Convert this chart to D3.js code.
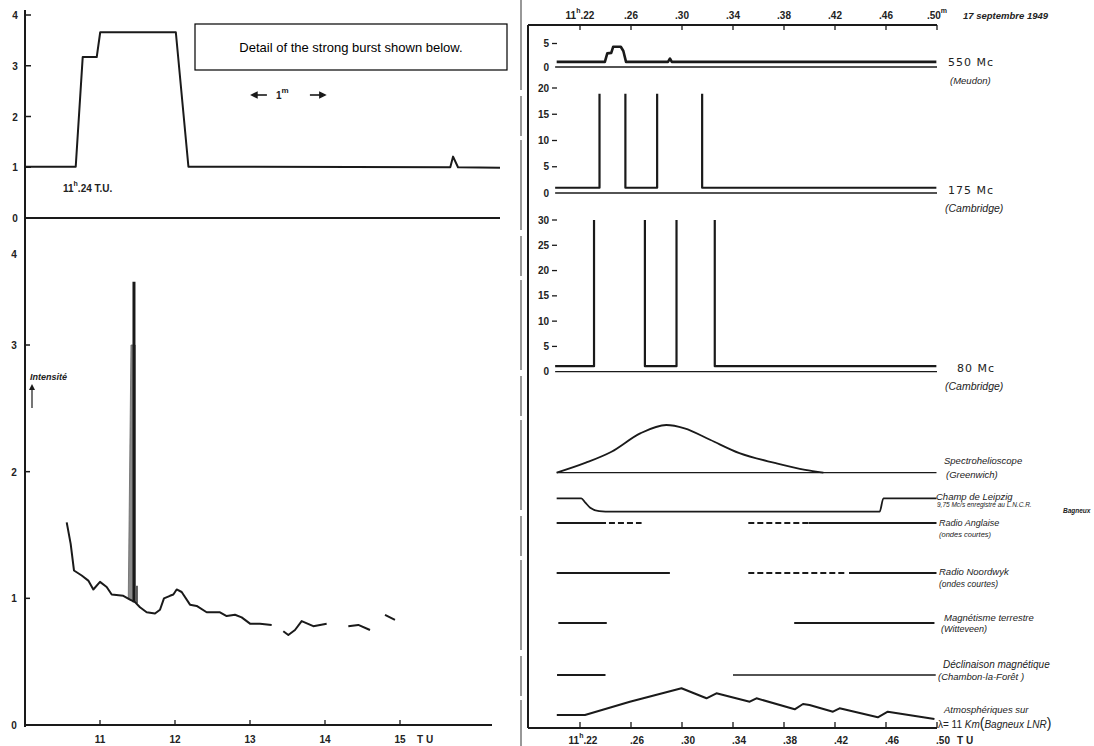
<!DOCTYPE html>
<html>
<head>
<meta charset="utf-8">
<script src="https://cdn.jsdelivr.net/npm/d3@7"></script>
<style>
  body { margin: 0; background: #fff; }
  svg { display: block; }
  .num { font-family: "Liberation Sans", Arial, sans-serif; font-weight: bold; font-size: 10px; fill: #222; }
  .lab { font-family: "Liberation Sans", Arial, sans-serif; font-style: italic; fill: #222; }
  .mc  { font-family: "DejaVu Sans", sans-serif; font-size: 11px; fill: #222; letter-spacing: 1px; }
</style>
</head>
<body>
<svg id="chart" width="1094" height="746"></svg>
<script>
/* Solar burst of 17 Sept 1949 — left: intensity record + detail, right: multi-station comparison.
   Values. */

// ---- left panel data ----
var burstTicks = [0, 1, 2, 3, 4];
var burst = [[23.23, 1.01], [23.94, 1.01], [24.04, 3.17], [24.24, 3.17], [24.29, 3.66], [25.37, 3.66],
             [25.55, 1.01], [29.29, 1.0], [29.33, 1.21], [29.40, 1.0], [30.0, 0.99]];

var hourTicks = [11, 12, 13, 14, 15];
var intensityTicks = [0, 1, 2, 3];
var intensity = [
  [10.556, 1.60], [10.609, 1.43], [10.653, 1.22], [10.756, 1.18], [10.844, 1.14], [10.911, 1.07],
  [11.0, 1.13], [11.089, 1.09], [11.156, 1.03], [11.311, 1.02], [11.4, 0.99], [11.467, 0.97],
  [11.533, 0.93], [11.622, 0.89], [11.733, 0.88], [11.8, 0.91], [11.853, 1.0], [11.933, 1.02],
  [11.978, 1.03], [12.022, 1.07], [12.089, 1.05], [12.2, 0.95], [12.289, 0.94], [12.422, 0.89],
  [12.6, 0.89], [12.689, 0.86], [12.8, 0.87], [12.889, 0.85], [13.0, 0.80], [13.133, 0.80], [13.289, 0.79],
  null,
  [13.444, 0.74], [13.511, 0.71], [13.6, 0.75], [13.689, 0.82], [13.844, 0.78], [13.933, 0.79], [14.022, 0.80],
  null,
  [14.311, 0.78], [14.444, 0.79], [14.6, 0.75],
  null,
  [14.8, 0.87], [14.933, 0.83]
];
var spikeFill = [[11.377, 1.0], [11.413, 3.0], [11.47, 3.0], [11.47, 0.97]];
var spikePeak = [[11.453, 3.5], [11.453, 0.97]];
var spikeTick = [[11.493, 1.1], [11.493, 0.96]];

// ---- right panel data ----
var minuteTicks = [22, 26, 30, 34, 38, 42, 46, 50];
var minuteLabels = ["11|h|.22", ".26", ".30", ".34", ".38", ".42", ".46", ".50|m|"];
var bottomLabels = ["11|h|.22", ".26", ".30", ".34", ".38", ".42", ".46", ".50"];

var ticks550 = [0, 5];
var mc550 = [[20.17, 1.1], [23.95, 1.1], [24.14, 2.9], [24.45, 3.0], [24.6, 4.3], [25.2, 4.3],
             [25.4, 3.4], [25.61, 1.1], [28.9, 1.1], [29.06, 1.8], [29.2, 1.1], [49.95, 1.1]];

var ticks175 = [0, 5, 10, 15, 20];
var mc175 = [[20.05, 1.0], [23.53, 1.0], [23.53, 18.9], null, [25.56, 18.9], [25.56, 1.0],
             [28.05, 1.0], [28.05, 18.9], null, [31.58, 18.9], [31.58, 1.0], [49.95, 1.0]];

var ticks80 = [0, 5, 10, 15, 20, 25, 30];
var mc80 = [[20.05, 1.1], [23.10, 1.1], [23.10, 30], null, [27.09, 30], [27.09, 1.1],
            [29.57, 1.1], [29.57, 30], null, [32.57, 30], [32.57, 1.1], [49.95, 1.1]];

var spectro = [[20.17, 0], [22.46, 0.21], [24.47, 0.44], [26.76, 0.83], [28.77, 1.0], [30.2, 0.93],
               [32.2, 0.69], [34.5, 0.41], [37.36, 0.20], [39.66, 0.06], [41.09, 0]];
var spectroBase = [[20.17, 0], [49.96, 0]];

var leipzig = [[20.17, 1], [22.1, 1], [22.4, 0.7], [22.8, 0.3], [23.5, 0.05], [24.5, 0],
               [45.5, 0], [45.8, 1], [49.96, 1]];

var radioAnglaise = [[20.17, 24.04, "solid"], [24.27, 26.83, "dash"], [35.2, 39.93, "dash"], [39.93, 49.96, "solid"]];
var radioNoordwyk = [[20.17, 29.05, "solid"], [35.2, 42.8, "dash"], [43.1, 49.96, "solid"]];
var magnetisme = [[20.3, 24.1, "solid"], [38.8, 49.8, "solid"]];
var declinaison = [[20.2, 24.0, "solid"], [34.0, 49.9, "thin"]];

var atmos = [[20.18, 1.3], [22.39, 1.3], [25.91, 2.63], [29.96, 3.97], [31.92, 2.97], [32.7, 3.47],
             [35.31, 2.63], [35.84, 2.97], [38.84, 1.87], [39.49, 2.4], [40.0, 2.3], [41.84, 1.63],
             [42.36, 1.97], [45.36, 1.07], [46.14, 1.63], [49.8, 0.9]];

// ---------------------------------------------------------------------------
var svg = d3.select("#chart");
var ink = "#1a1a1a";

function path(xs, ys) {
  return d3.line().defined(function (d) { return d; })
    .x(function (d) { return xs(d[0]); }).y(function (d) { return ys(d[1]); });
}
// "11|h|.22" -> 11 + raised small h + .22
function supLabel(sel, s) {
  var parts = s.split("|");
  sel.append("tspan").text(parts[0]);
  if (parts.length > 1) {
    sel.append("tspan").attr("dy", -6).attr("font-size", "7px").text(parts[1]);
    if (parts[2]) sel.append("tspan").attr("dy", 6).text(parts[2]);
  }
}

/* ======================= LEFT PANEL ======================= */
var xT = d3.scaleLinear().domain([23.23, 30]).range([26, 500]);
var yB = d3.scaleLinear().domain([0, 4]).range([218, 15]);
var xH = d3.scaleLinear().domain([10, 16.2]).range([25, 490]);
var yI = d3.scaleLinear().domain([0, 3]).range([725, 345]);

// page edge of the scan
svg.append("line").attr("x1", 521).attr("x2", 521).attr("y1", 0).attr("y2", 746)
  .attr("stroke", "#777").attr("stroke-width", 1.5).attr("stroke-dasharray", "90,6,40,4");

svg.append("line").attr("x1", 25).attr("x2", 25).attr("y1", 10).attr("y2", 727)
  .attr("stroke", ink).attr("stroke-width", 2);

// inset ticks
var bt = svg.append("g").selectAll("g").data(burstTicks).enter().append("g");
bt.append("text").attr("class", "num").attr("x", 15).attr("y", function (d) { return yB(d) + 4; })
  .attr("text-anchor", "middle").text(function (d) { return d; });
bt.filter(function (d) { return d > 0; }).append("line")
  .attr("x1", 26).attr("x2", 31).attr("y1", function (d) { return yB(d); }).attr("y2", function (d) { return yB(d); })
  .attr("stroke", ink).attr("stroke-width", 1.5);

// inset zero line and burst
svg.append("line").attr("x1", xT(23.23) - 1).attr("x2", xT(30)).attr("y1", yB(0)).attr("y2", yB(0))
  .attr("stroke", ink).attr("stroke-width", 2);
svg.append("path").datum(burst).attr("d", path(xT, yB)).attr("fill", "none")
  .attr("stroke", ink).attr("stroke-width", 2).attr("stroke-linejoin", "round");

var t24 = svg.append("text").attr("class", "num").attr("x", 63).attr("y", 192);
supLabel(t24, "11|h|.24  T.U.");

// 1 minute scale marker
var mk = svg.append("g").attr("stroke", ink).attr("stroke-width", 1.6);
mk.append("line").attr("x1", xT(24.0) + 175).attr("x2", xT(24.0) + 187).attr("y1", 95).attr("y2", 95);
mk.append("path").attr("d", "M" + (xT(24.0) + 172) + ",95 l5,-2.5 v5 z").attr("fill", ink);
mk.append("line").attr("x1", xT(24.0) + 230).attr("x2", xT(24.0) + 242).attr("y1", 95).attr("y2", 95);
mk.append("path").attr("d", "M" + (xT(24.0) + 245) + ",95 l-5,-2.5 v5 z").attr("fill", ink);
var onem = svg.append("text").attr("class", "num").attr("x", xT(24.0) + 196).attr("y", 99);
onem.append("tspan").text("1");
onem.append("tspan").attr("dy", -6).attr("font-size", "8px").text("m");

// caption box
svg.append("rect").attr("x", 195).attr("y", 24).attr("width", 312).attr("height", 46)
  .attr("fill", "#fff").attr("stroke", "#000").attr("stroke-width", 1.2);
svg.append("text").attr("x", 351).attr("y", 52).attr("text-anchor", "middle")
  .attr("font-family", "Liberation Sans, Arial, sans-serif").attr("font-size", "13px").attr("fill", "#000")
  .text("Detail of the strong burst shown below.");

// main intensity chart
var it = svg.append("g").selectAll("g").data(intensityTicks).enter().append("g");
it.append("text").attr("class", "num").attr("x", 14).attr("y", function (d) { return yI(d) + 4; })
  .attr("text-anchor", "middle").text(function (d) { return d; });
it.filter(function (d) { return d > 0; }).append("line")
  .attr("x1", 26).attr("x2", 30).attr("y1", function (d) { return yI(d); }).attr("y2", function (d) { return yI(d); })
  .attr("stroke", ink).attr("stroke-width", 1.5);
svg.append("text").attr("class", "num").attr("x", 14).attr("y", yI(3.72) + 4)
  .attr("text-anchor", "middle").attr("font-size", "8px").text("4");

svg.append("line").attr("x1", 25).attr("x2", 492).attr("y1", yI(0)).attr("y2", yI(0))
  .attr("stroke", ink).attr("stroke-width", 2);
var ht = svg.append("g").selectAll("g").data(hourTicks).enter().append("g");
ht.append("line").attr("x1", function (d) { return xH(d); }).attr("x2", function (d) { return xH(d); })
  .attr("y1", yI(0)).attr("y2", yI(0) - 5).attr("stroke", ink).attr("stroke-width", 1.3);
ht.append("text").attr("class", "num").attr("x", function (d) { return xH(d); }).attr("y", 743)
  .attr("text-anchor", "middle").text(function (d) { return d; });
svg.append("text").attr("class", "num").attr("x", xH(15) + 17).attr("y", 743).text("T U");

svg.append("path").datum(spikeFill).attr("d", path(xH, yI)).attr("fill", "#8a8a8a").attr("stroke", "#666").attr("stroke-width", 0.8);
svg.append("path").datum(spikePeak).attr("d", path(xH, yI)).attr("stroke", ink).attr("stroke-width", 3).attr("fill", "none");
svg.append("path").datum(spikeTick).attr("d", path(xH, yI)).attr("stroke", ink).attr("stroke-width", 1.4).attr("fill", "none");
svg.append("path").datum(intensity).attr("d", path(xH, yI)).attr("fill", "none")
  .attr("stroke", ink).attr("stroke-width", 2).attr("stroke-linejoin", "round");

var iLab = svg.append("text").attr("class", "lab").attr("x", 30).attr("y", 380)
  .attr("font-size", "9px").attr("font-weight", "bold").text("Intensité");
svg.append("line").attr("x1", 32).attr("x2", 32).attr("y1", 408).attr("y2", 388).attr("stroke", ink).attr("stroke-width", 1.2);
svg.append("path").attr("d", "M32,384 l-3,6 h6 z").attr("fill", ink);

/* ======================= RIGHT PANEL ======================= */
var xM = d3.scaleLinear().domain([22, 50]).range([580, 937]);
var x0 = 528, x1 = xM(50);
var y550 = d3.scaleLinear().domain([0, 5]).range([67, 43.5]);
var y175 = d3.scaleLinear().domain([0, 20]).range([193, 88]);
var y80 = d3.scaleLinear().domain([0, 30]).range([371.7, 220]);
var ySpec = d3.scaleLinear().domain([0, 1]).range([472.7, 425]);
var yLeip = d3.scaleLinear().domain([0, 1]).range([511.7, 498.3]);
var yAtm = d3.scaleLinear().domain([0, 4]).range([728, 688]);
var rowY = d3.scaleOrdinal().domain(["anglaise", "noordwyk", "magn", "decl"]).range([523, 573, 623, 675]);

svg.append("line").attr("x1", x0).attr("x2", x0).attr("y1", 25).attr("y2", 728)
  .attr("stroke", ink).attr("stroke-width", 2);

// top time axis
svg.append("line").attr("x1", x0).attr("x2", x1).attr("y1", 25).attr("y2", 25).attr("stroke", ink).attr("stroke-width", 2);
var tt = svg.append("g").selectAll("g").data(minuteTicks).enter().append("g");
tt.append("line").attr("x1", function (d) { return xM(d); }).attr("x2", function (d) { return xM(d); })
  .attr("y1", 25).attr("y2", 30).attr("stroke", ink).attr("stroke-width", 1.3);
tt.append("text").attr("class", "num").attr("font-size", "9.5px").attr("x", function (d) { return xM(d); }).attr("y", 19)
  .attr("text-anchor", "middle").each(function (d, i) { supLabel(d3.select(this), minuteLabels[i]); });
svg.append("text").attr("class", "lab").attr("x", 963).attr("y", 19).attr("font-size", "9.5px")
  .attr("font-weight", "bold").text("17 septembre 1949");

// bottom time axis
svg.append("line").attr("x1", x0).attr("x2", x1).attr("y1", 728).attr("y2", 728).attr("stroke", ink).attr("stroke-width", 2);
var bt2 = svg.append("g").selectAll("g").data(minuteTicks).enter().append("g");
bt2.append("line").attr("x1", function (d) { return xM(d); }).attr("x2", function (d) { return xM(d); })
  .attr("y1", 728).attr("y2", 722).attr("stroke", ink).attr("stroke-width", 1.3);
bt2.append("text").attr("class", "num").attr("font-size", "10.5px").attr("font-weight", "normal")
  .attr("x", function (d, i) { return xM(d) + (i === 0 ? 3 : 6); }).attr("y", 744)
  .attr("text-anchor", "middle").each(function (d, i) { supLabel(d3.select(this), bottomLabels[i]); });
svg.append("text").attr("class", "num").attr("font-weight", "normal").attr("font-size", "10.5px")
  .attr("x", xM(50) + 20).attr("y", 744).text("T U");

// radio panels: ticks, zero line, record
function radioPanel(ticks, ys, data, width) {
  var g = svg.append("g");
  var tk = g.selectAll("g").data(ticks).enter().append("g");
  tk.append("text").attr("class", "num").attr("font-size", "9.5px").attr("x", 549)
    .attr("y", function (d) { return ys(d) + 3.5; }).attr("text-anchor", "end").text(function (d) { return d; });
  tk.filter(function (d) { return d > 0; }).append("line").attr("x1", 552).attr("x2", 557)
    .attr("y1", function (d) { return ys(d); }).attr("y2", function (d) { return ys(d); })
    .attr("stroke", ink).attr("stroke-width", 1.3);
  g.append("line").attr("x1", xM(20.05)).attr("x2", x1).attr("y1", ys(0)).attr("y2", ys(0))
    .attr("stroke", ink).attr("stroke-width", 1.3);
  g.append("path").datum(data).attr("d", path(xM, ys)).attr("fill", "none")
    .attr("stroke", ink).attr("stroke-width", width).attr("stroke-linejoin", "round");
}
radioPanel(ticks550, y550, mc550, 2.6);
radioPanel(ticks175, y175, mc175, 2.2);
radioPanel(ticks80, y80, mc80, 2.2);

// spectroheliograph
svg.append("path").datum(spectroBase).attr("d", path(xM, ySpec)).attr("stroke", ink).attr("stroke-width", 1.3).attr("fill", "none");
svg.append("path").datum(spectro).attr("d", path(xM, ySpec).curve(d3.curveMonotoneX)).attr("fill", "none")
  .attr("stroke", ink).attr("stroke-width", 1.8);

// Leipzig field strength
svg.append("path").datum(leipzig).attr("d", path(xM, yLeip).curve(d3.curveMonotoneX)).attr("fill", "none")
  .attr("stroke", ink).attr("stroke-width", 1.8);

// presence bars
function presence(rows, key) {
  svg.append("g").selectAll("line").data(rows).enter().append("line")
    .attr("x1", function (d) { return xM(d[0]); }).attr("x2", function (d) { return xM(d[1]); })
    .attr("y1", rowY(key)).attr("y2", rowY(key)).attr("stroke", ink)
    .attr("stroke-width", function (d) { return d[2] === "thin" ? 1.3 : 2; })
    .attr("stroke-dasharray", function (d) { return d[2] === "dash" ? "6,3" : null; });
}
presence(radioAnglaise, "anglaise");
presence(radioNoordwyk, "noordwyk");
presence(magnetisme, "magn");
presence(declinaison, "decl");

// atmospherics
svg.append("path").datum(atmos).attr("d", path(xM, yAtm)).attr("fill", "none")
  .attr("stroke", ink).attr("stroke-width", 2).attr("stroke-linejoin", "round");

// right-hand labels
function mcLabel(x, y, s) {
  svg.append("text").attr("class", "mc").attr("x", x).attr("y", y).text(s);
}
function itLabel(x, y, s, size, bold) {
  return svg.append("text").attr("class", "lab").attr("x", x).attr("y", y)
    .attr("font-size", size + "px").attr("font-weight", bold ? "bold" : "normal").text(s);
}
mcLabel(948, 66, "550 Mc");
itLabel(950, 84, "(Meudon)", 9.5);
mcLabel(948, 194, "175 Mc");
itLabel(945, 212, "(Cambridge)", 10.5);
mcLabel(957, 372, "80 Mc");
itLabel(945, 390, "(Cambridge)", 10.5);
itLabel(944, 464, "Spectrohelioscope", 9.5);
itLabel(946, 478, "(Greenwich)", 9.5);
itLabel(936, 500, "Champ de Leipzig", 9.5);
itLabel(937, 507, "9,75 Mc/s enregistré au L.N.C.R.", 6.5);
itLabel(1063, 513, "Bagneux", 6.5, true);
itLabel(939, 526, "Radio Anglaise", 9);
itLabel(939, 537, "(ondes courtes)", 7.5);
itLabel(939, 575, "Radio Noordwyk", 9.5);
itLabel(939, 587, "(ondes courtes)", 8.5);
itLabel(944, 621, "Magnétisme terrestre", 9.5);
itLabel(941, 632, "(Witteveen)", 9);
itLabel(943, 668, "Déclinaison magnétique", 10);
itLabel(938, 680, "(Chambon-la-Forêt )", 9.5);
itLabel(944, 713, "Atmosphériques sur", 9.5);
var lam = svg.append("text").attr("class", "lab").attr("x", 938).attr("y", 728).attr("font-size", "10px");
lam.append("tspan").attr("font-style", "normal").text("λ= 11 ");
lam.append("tspan").text("Km");
lam.append("tspan").attr("font-size", "14px").attr("font-style", "normal").text("(");
lam.append("tspan").text("Bagneux LNR");
lam.append("tspan").attr("font-size", "14px").attr("font-style", "normal").text(")");
</script>
</body>
</html>
